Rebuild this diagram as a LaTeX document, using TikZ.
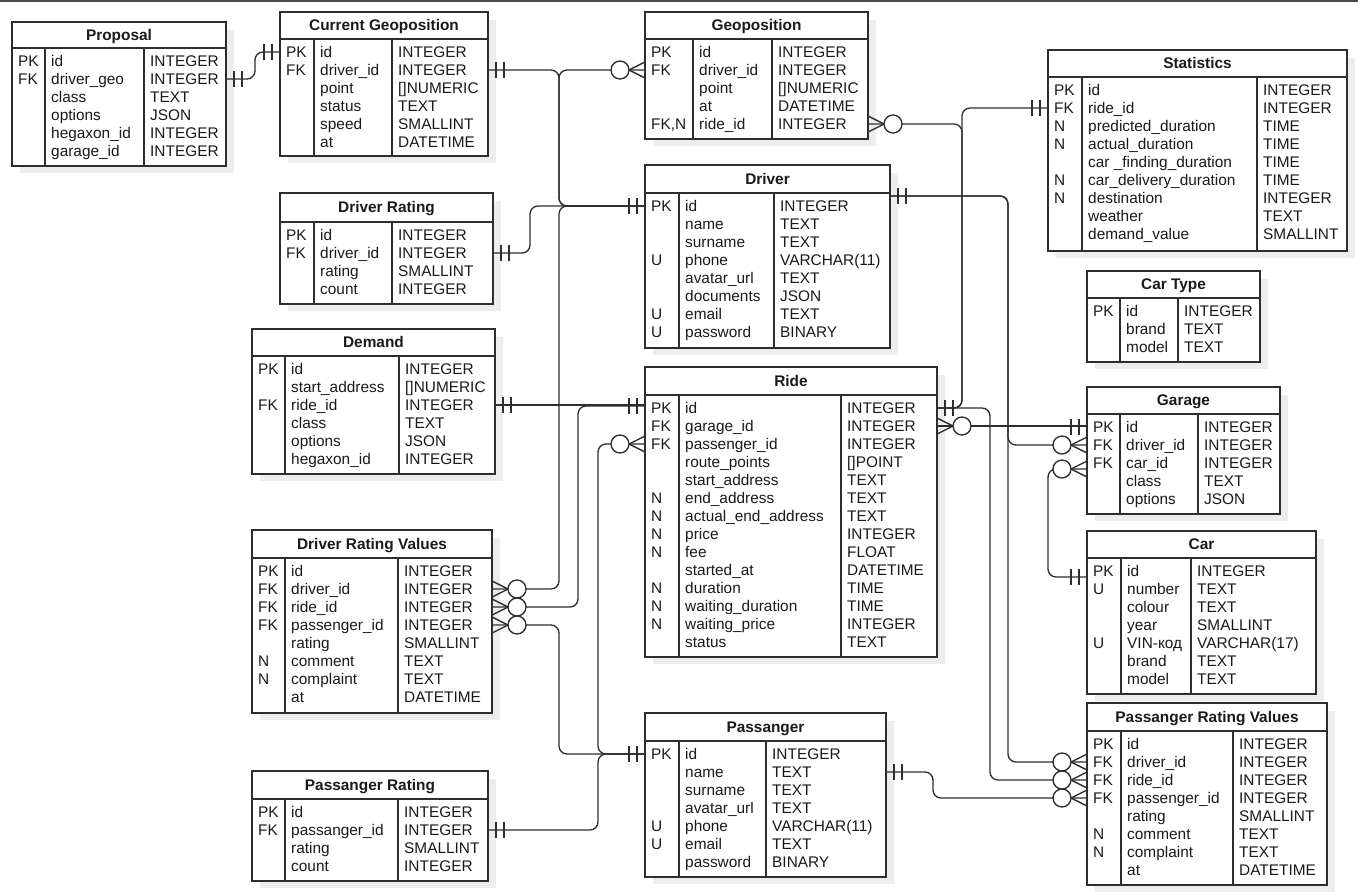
\documentclass[tikz,border=0pt]{standalone}
\usepackage{fontspec}
\setmainfont{Liberation Sans}
\usetikzlibrary{calc}

\definecolor{erline}{HTML}{2E2E2E}
\definecolor{ertext}{HTML}{1A1A1A}
\definecolor{ershadow}{HTML}{EDEDED}
\definecolor{topband}{HTML}{4A4A4A}

\tikzset{
  x=1pt, y=-1pt,
  tableframe/.style={draw=erline, line width=1.4pt, fill=white},
  tablerule/.style={draw=erline, line width=1.4pt},
  tableshadow/.style={fill=ershadow},
  titletext/.style={anchor=base, inner sep=0pt, text=ertext,
    font=\fontsize{15.4}{18}\selectfont\bfseries},
  celltext/.style={anchor=base west, inner sep=0pt, text=ertext,
    font=\fontsize{15.4}{18}\selectfont},
  relation/.style={draw=erline, line width=1.35pt, rounded corners=8pt},
  relmark/.style={draw=erline, line width=1.35pt},
}

% one entity table: frame, shadow, rules and title
\newcount\errow
\newcommand\ertable[9]{% #1 name, #2 left, #3 right, #4 top, #5 header rule, #6 bottom, #7 key rule, #8 type rule, #9 title
  \gdef\ername{#1}\gdef\erleft{#2}\gdef\erright{#3}%
  \gdef\erkeyx{#7}\gdef\ertypex{#8}\gdef\erhead{#5}%
  \global\errow=0
  \fill[tableshadow] (#2+8,#4+8) rectangle (#3+8,#6+7);
  \draw[tableframe] (#2,#4) rectangle (#3,#6);
  \draw[tablerule] (#2,#5) -- (#3,#5) (#7,#5) -- (#7,#6) (#8,#5) -- (#8,#6);
  \node[titletext] (#1) at ({(#2+#3)/2},{(#4+#5)/2+5}) {#9};
}
% one row of the current table, with ports on both sides
\newcommand\errowline[3]{% key, field, type
  \global\advance\errow by 1
  \pgfmathsetmacro\erry{\erhead+13+18*(\errow-1)}%
  \coordinate (\ername-\the\errow-w) at (\erleft,\erry);
  \coordinate (\ername-\the\errow-e) at (\erright,\erry);
  \node[celltext] (\ername-\the\errow-key) at (\erleft+6,\erry+5) {#1};
  \node[celltext] (\ername-\the\errow-field) at (\erkeyx+6,\erry+5) {#2};
  \node[celltext] (\ername-\the\errow-type) at (\ertypex+6,\erry+5) {#3};
}
% relation: horizontal, vertical run at the x of a bus coordinate, horizontal
\newcommand\erlink[3]{\draw[relation] (#1) -- (#1 -| #2) -- (#3 -| #2) -- (#3);}
% mandatory one: two bars; #2 = 1 for an east port, -1 for a west port
\newcommand\mandone[2]{%
  \draw[relmark] ($(#1)+(#2*8,-8)$) -- ($(#1)+(#2*8,8)$)
                 ($(#1)+(#2*16,-8)$) -- ($(#1)+(#2*16,8)$);}
% zero or many: crow's foot and a circle
\newcommand\zeromany[2]{%
  \draw[relmark] ($(#1)+(0,-8)$) -- ($(#1)+(#2*16,0)$) -- ($(#1)+(0,8)$);
  \draw[relmark, fill=white] ($(#1)+(#2*25,0)$) circle[radius=9pt];}

\begin{document}
\begin{tikzpicture}
\useasboundingbox (0,0) rectangle (1358,894);
\fill[topband] (0,0) rectangle (1358,1.5);

% ---------------- tables ----------------
\ertable{prop}{12}{226}{22}{48}{166}{45}{144}{Proposal}
\errowline{PK}{id}{INTEGER}
\errowline{FK}{driver\_geo}{INTEGER}
\errowline{}{class}{TEXT}
\errowline{}{options}{JSON}
\errowline{}{hegaxon\_id}{INTEGER}
\errowline{}{garage\_id}{INTEGER}

\ertable{cgeo}{280}{488}{12}{39}{156}{314}{392}{Current Geoposition}
\errowline{PK}{id}{INTEGER}
\errowline{FK}{driver\_id}{INTEGER}
\errowline{}{point}{[]NUMERIC}
\errowline{}{status}{TEXT}
\errowline{}{speed}{SMALLINT}
\errowline{}{at}{DATETIME}

\ertable{geo}{645}{868}{12}{39}{139}{693}{772}{Geoposition}
\errowline{PK}{id}{INTEGER}
\errowline{FK}{driver\_id}{INTEGER}
\errowline{}{point}{[]NUMERIC}
\errowline{}{at}{DATETIME}
\errowline{FK,N}{ride\_id}{INTEGER}

\ertable{stat}{1048}{1347}{50}{77}{251}{1082}{1257}{Statistics}
\errowline{PK}{id}{INTEGER}
\errowline{FK}{ride\_id}{INTEGER}
\errowline{N}{predicted\_duration}{TIME}
\errowline{N}{actual\_duration}{TIME}
\errowline{}{car \_finding\_duration}{TIME}
\errowline{N}{car\_delivery\_duration}{TIME}
\errowline{N}{destination}{INTEGER}
\errowline{}{weather}{TEXT}
\errowline{}{demand\_value}{SMALLINT}

\ertable{drate}{280}{493}{193}{222}{304}{314}{392}{Driver Rating}
\errowline{PK}{id}{INTEGER}
\errowline{FK}{driver\_id}{INTEGER}
\errowline{}{rating}{SMALLINT}
\errowline{}{count}{INTEGER}

\ertable{driver}{645}{890}{165}{193}{348}{679}{774}{Driver}
\errowline{PK}{id}{INTEGER}
\errowline{}{name}{TEXT}
\errowline{}{surname}{TEXT}
\errowline{U}{phone}{VARCHAR(11)}
\errowline{}{avatar\_url}{TEXT}
\errowline{}{documents}{JSON}
\errowline{U}{email}{TEXT}
\errowline{U}{password}{BINARY}

\ertable{cartype}{1087}{1260}{271}{298}{362}{1120}{1178}{Car Type}
\errowline{PK}{id}{INTEGER}
\errowline{}{brand}{TEXT}
\errowline{}{model}{TEXT}

\ertable{demand}{252}{495}{329}{356}{474}{285}{399}{Demand}
\errowline{PK}{id}{INTEGER}
\errowline{}{start\_address}{[]NUMERIC}
\errowline{FK}{ride\_id}{INTEGER}
\errowline{}{class}{TEXT}
\errowline{}{options}{JSON}
\errowline{}{hegaxon\_id}{INTEGER}

\ertable{ride}{645}{937}{367}{395}{657}{679}{841}{Ride}
\errowline{PK}{id}{INTEGER}
\errowline{FK}{garage\_id}{INTEGER}
\errowline{FK}{passenger\_id}{INTEGER}
\errowline{}{route\_points}{[]POINT}
\errowline{}{start\_address}{TEXT}
\errowline{N}{end\_address}{TEXT}
\errowline{N}{actual\_end\_address}{TEXT}
\errowline{N}{price}{INTEGER}
\errowline{N}{fee}{FLOAT}
\errowline{}{started\_at}{DATETIME}
\errowline{N}{duration}{TIME}
\errowline{N}{waiting\_duration}{TIME}
\errowline{N}{waiting\_price}{INTEGER}
\errowline{}{status}{TEXT}

\ertable{garage}{1087}{1280}{387}{414}{514}{1120}{1198}{Garage}
\errowline{PK}{id}{INTEGER}
\errowline{FK}{driver\_id}{INTEGER}
\errowline{FK}{car\_id}{INTEGER}
\errowline{}{class}{TEXT}
\errowline{}{options}{JSON}

\ertable{drv}{252}{492}{530}{558}{713}{285}{398}{Driver Rating Values}
\errowline{PK}{id}{INTEGER}
\errowline{FK}{driver\_id}{INTEGER}
\errowline{FK}{ride\_id}{INTEGER}
\errowline{FK}{passenger\_id}{INTEGER}
\errowline{}{rating}{SMALLINT}
\errowline{N}{comment}{TEXT}
\errowline{N}{complaint}{TEXT}
\errowline{}{at}{DATETIME}

\ertable{car}{1087}{1316}{531}{558}{694}{1121}{1191}{Car}
\errowline{PK}{id}{INTEGER}
\errowline{U}{number}{TEXT}
\errowline{}{colour}{TEXT}
\errowline{}{year}{SMALLINT}
\errowline{U}{VIN-код}{VARCHAR(17)}
\errowline{}{brand}{TEXT}
\errowline{}{model}{TEXT}

\ertable{pass}{645}{886}{713}{741}{877}{679}{766}{Passanger}
\errowline{PK}{id}{INTEGER}
\errowline{}{name}{TEXT}
\errowline{}{surname}{TEXT}
\errowline{}{avatar\_url}{TEXT}
\errowline{U}{phone}{VARCHAR(11)}
\errowline{U}{email}{TEXT}
\errowline{}{password}{BINARY}

\ertable{prv}{1087}{1327}{703}{731}{885}{1121}{1233}{Passanger Rating Values}
\errowline{PK}{id}{INTEGER}
\errowline{FK}{driver\_id}{INTEGER}
\errowline{FK}{ride\_id}{INTEGER}
\errowline{FK}{passenger\_id}{INTEGER}
\errowline{}{rating}{SMALLINT}
\errowline{N}{comment}{TEXT}
\errowline{N}{complaint}{TEXT}
\errowline{}{at}{DATETIME}

\ertable{prate}{252}{488}{771}{799}{881}{285}{398}{Passanger Rating}
\errowline{PK}{id}{INTEGER}
\errowline{FK}{passanger\_id}{INTEGER}
\errowline{}{rating}{SMALLINT}
\errowline{}{count}{INTEGER}

% ---------------- extra ports and vertical runs ----------------
\coordinate (driver-out) at ($(driver-1-e)+(0,-10)$);
\coordinate (garage-car) at ($(garage-3-w)+(0,6)$);
\coordinate (car-id) at ($(car-1-w)+(0,6)$);
\coordinate (ride-id-w) at ($(ride-1-w)+(0,-2)$);

\coordinate (bus-prop) at (255,0);
\coordinate (bus-drate) at (530,0);
\coordinate (bus-driver) at (559,0);
\coordinate (bus-ride) at (578,0);
\coordinate (bus-pass) at (598,0);
\coordinate (bus-passout) at (933,0);
\coordinate (bus-rideeast) at (962,0);
\coordinate (bus-prvride) at (990,0);
\coordinate (bus-driverout) at (1008,0);
\coordinate (bus-car) at (1048,0);

% ---------------- relations ----------------
\erlink{prop-2-e}{bus-prop}{cgeo-1-w}
\erlink{cgeo-2-e}{bus-driver}{driver-1-w}
\erlink{geo-2-w}{bus-driver}{driver-1-w}
\erlink{drate-2-e}{bus-drate}{driver-1-w}
\erlink{drv-2-e}{bus-driver}{driver-1-w}
\draw[relation] (demand-3-e) -- (demand-3-e -| ride-id-w);
\erlink{drv-3-e}{bus-ride}{ride-id-w}
\erlink{ride-3-w}{bus-pass}{pass-1-w}
\erlink{drv-4-e}{bus-driver}{pass-1-w}
\erlink{prate-2-e}{bus-pass}{pass-1-w}
\erlink{geo-5-e}{bus-rideeast}{ride-1-e}
\erlink{stat-2-w}{bus-rideeast}{ride-1-e}
\erlink{ride-1-e}{bus-prvride}{prv-3-w}
\draw[relation] (ride-2-e) -- (ride-2-e -| garage-1-w);
\erlink{driver-out}{bus-driverout}{garage-2-w}
\erlink{driver-out}{bus-driverout}{prv-2-w}
\erlink{garage-car}{bus-car}{car-id}
\erlink{pass-2-e}{bus-passout}{prv-4-w}

% ---------------- cardinality marks ----------------
\mandone{prop-2-e}{1}
\mandone{cgeo-1-w}{-1}
\mandone{cgeo-2-e}{1}
\mandone{driver-1-w}{-1}
\mandone{drate-2-e}{1}
\mandone{demand-3-e}{1}
\mandone{ride-id-w}{-1}
\mandone{pass-1-w}{-1}
\mandone{prate-2-e}{1}
\mandone{ride-1-e}{1}
\mandone{stat-2-w}{-1}
\mandone{garage-1-w}{-1}
\mandone{driver-out}{1}
\mandone{car-id}{-1}
\mandone{pass-2-e}{1}

\zeromany{geo-2-w}{-1}
\zeromany{drv-2-e}{1}
\zeromany{drv-3-e}{1}
\zeromany{drv-4-e}{1}
\zeromany{ride-3-w}{-1}
\zeromany{geo-5-e}{1}
\zeromany{prv-3-w}{-1}
\zeromany{ride-2-e}{1}
\zeromany{garage-2-w}{-1}
\zeromany{prv-2-w}{-1}
\zeromany{garage-car}{-1}
\zeromany{prv-4-w}{-1}
\end{tikzpicture}
\end{document}
